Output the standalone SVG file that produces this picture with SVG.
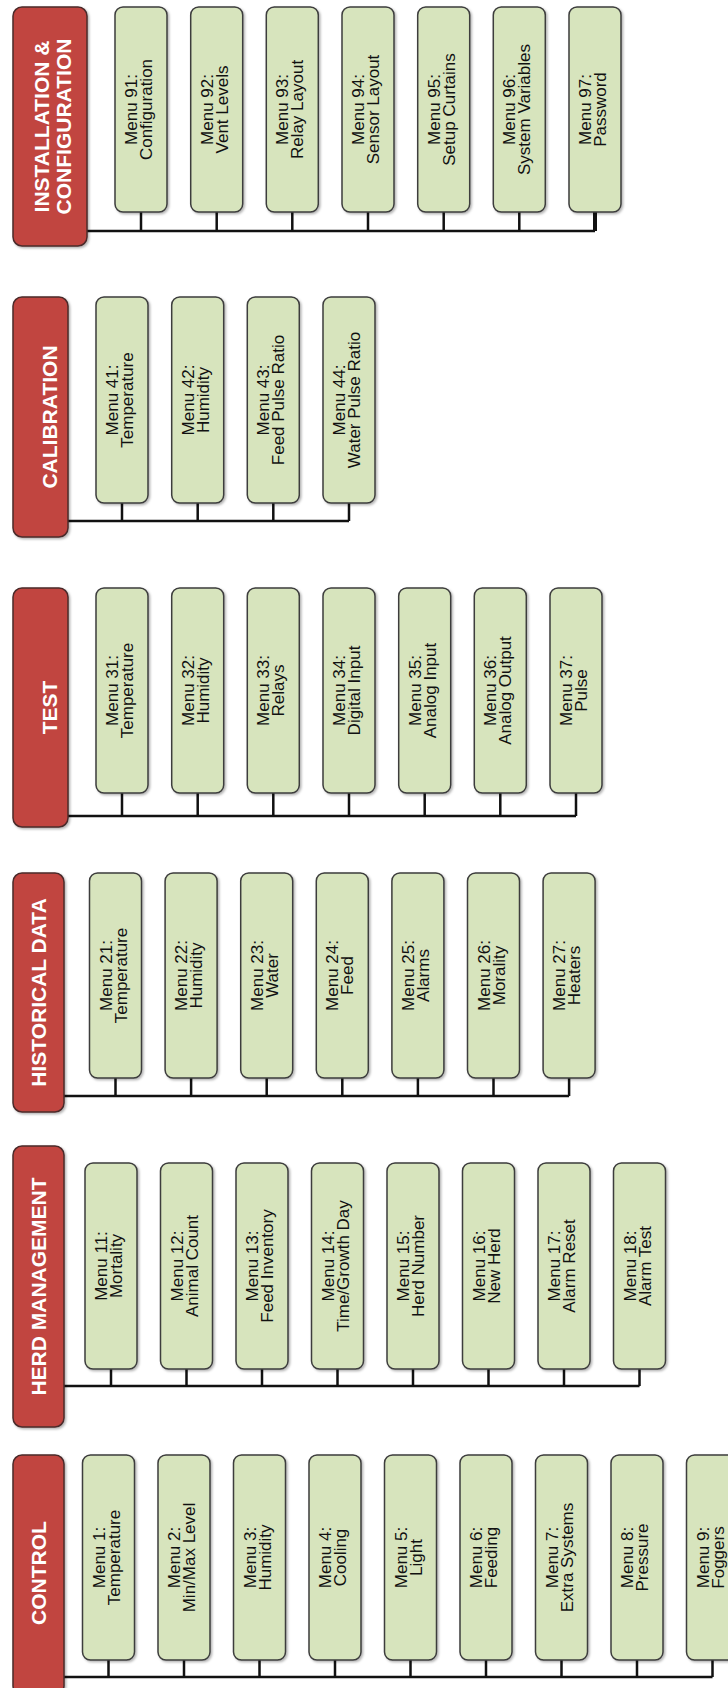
<svg xmlns="http://www.w3.org/2000/svg" width="728" height="1688" viewBox="0 0 728 1688">
<defs>
<filter id="sh" x="-10%" y="-10%" width="130%" height="130%">
<feDropShadow dx="1.5" dy="1.5" stdDeviation="1" flood-color="#000" flood-opacity="0.3"/>
</filter>
</defs>
<style>
.hd{fill:#c1443f;stroke:#4a2a2a;stroke-width:1.5;filter:url(#sh)}
.bx{fill:#d7e4bd;stroke:#3c3c3c;stroke-width:1.5;filter:url(#sh)}
.ht{font-family:"Liberation Sans",Arial,sans-serif;font-weight:bold;font-size:21px;fill:#fff;text-anchor:middle}
.mt{font-family:"Liberation Sans",Arial,sans-serif;font-size:17px;fill:#111;text-anchor:middle}
.cn{fill:none;stroke:#111;stroke-width:2.5}
</style>
<rect width="728" height="1688" fill="#fff"/>

<g id="connectors">
<path class="cn" d="M87,231H595M141,212V231M216.7,212V231M292.3,212V231M368,212V231M443.7,212V231M519.3,212V231"/>
<path class="cn" d="M595,212V231" style="stroke-width:4"/>
<path class="cn" d="M68,521H349M122,503V521M197.7,503V521M273.3,503V521M349,503V521"/>
<path class="cn" d="M68,816H576M122,793V816M197.7,793V816M273.3,793V816M349,793V816M424.7,793V816M500.3,793V816M576,793V816"/>
<path class="cn" d="M64,1096H569.1M115.5,1078V1096M191.1,1078V1096M266.7,1078V1096M342.3,1078V1096M417.9,1078V1096M493.5,1078V1096M569.1,1078V1096"/>
<path class="cn" d="M64,1386H639.5M111,1369V1386M186.5,1369V1386M262,1369V1386M337.5,1369V1386M413,1369V1386M488.5,1369V1386M564,1369V1386M639.5,1369V1386"/>
<path class="cn" d="M64,1677H712.5M108.5,1660V1677M184,1660V1677M259.5,1660V1677M335,1660V1677M410.5,1660V1677M486,1660V1677M561.5,1660V1677M637,1660V1677M712.5,1660V1677"/>
</g>

<!-- INSTALLATION & CONFIGURATION -->
<g id="installation">
<rect class="hd" x="13" y="7" width="74" height="239" rx="9"/>
<text class="ht" transform="translate(0,126.5) rotate(-90)"><tspan x="0" y="48.5">INSTALLATION &amp;</tspan><tspan x="0" y="70.5">CONFIGURATION</tspan></text>
</g>
<g id="menu91"><rect class="bx" x="115" y="7" width="52" height="205" rx="8"/><text class="mt" transform="translate(141,109.5) rotate(-90)"><tspan x="0" y="-4">Menu 91:</tspan><tspan x="0" y="11">Configuration</tspan></text></g>
<g id="menu92"><rect class="bx" x="190.7" y="7" width="52" height="205" rx="8"/><text class="mt" transform="translate(216.7,109.5) rotate(-90)"><tspan x="0" y="-4">Menu 92:</tspan><tspan x="0" y="11">Vent Levels</tspan></text></g>
<g id="menu93"><rect class="bx" x="266.3" y="7" width="52" height="205" rx="8"/><text class="mt" transform="translate(292.3,109.5) rotate(-90)"><tspan x="0" y="-4">Menu 93:</tspan><tspan x="0" y="11">Relay Layout</tspan></text></g>
<g id="menu94"><rect class="bx" x="342" y="7" width="52" height="205" rx="8"/><text class="mt" transform="translate(368,109.5) rotate(-90)"><tspan x="0" y="-4">Menu 94:</tspan><tspan x="0" y="11">Sensor Layout</tspan></text></g>
<g id="menu95"><rect class="bx" x="417.7" y="7" width="52" height="205" rx="8"/><text class="mt" transform="translate(443.7,109.5) rotate(-90)"><tspan x="0" y="-4">Menu 95:</tspan><tspan x="0" y="11">Setup Curtains</tspan></text></g>
<g id="menu96"><rect class="bx" x="493.3" y="7" width="52" height="205" rx="8"/><text class="mt" transform="translate(519.3,109.5) rotate(-90)"><tspan x="0" y="-4">Menu 96:</tspan><tspan x="0" y="11">System Variables</tspan></text></g>
<g id="menu97"><rect class="bx" x="569" y="7" width="52" height="205" rx="8"/><text class="mt" transform="translate(595,109.5) rotate(-90)"><tspan x="0" y="-4">Menu 97:</tspan><tspan x="0" y="11">Password</tspan></text></g>

<!-- CALIBRATION -->
<g id="calibration">
<rect class="hd" x="13" y="297" width="55" height="240" rx="9"/>
<text class="ht" transform="translate(57,417) rotate(-90)">CALIBRATION</text>
</g>
<g id="menu41"><rect class="bx" x="96" y="297" width="52" height="206" rx="8"/><text class="mt" transform="translate(122,400) rotate(-90)"><tspan x="0" y="-4">Menu 41:</tspan><tspan x="0" y="11">Temperature</tspan></text></g>
<g id="menu42"><rect class="bx" x="171.7" y="297" width="52" height="206" rx="8"/><text class="mt" transform="translate(197.7,400) rotate(-90)"><tspan x="0" y="-4">Menu 42:</tspan><tspan x="0" y="11">Humidity</tspan></text></g>
<g id="menu43"><rect class="bx" x="247.3" y="297" width="52" height="206" rx="8"/><text class="mt" transform="translate(273.3,400) rotate(-90)"><tspan x="0" y="-4">Menu 43:</tspan><tspan x="0" y="11">Feed Pulse Ratio</tspan></text></g>
<g id="menu44"><rect class="bx" x="323" y="297" width="52" height="206" rx="8"/><text class="mt" transform="translate(349,400) rotate(-90)"><tspan x="0" y="-4">Menu 44:</tspan><tspan x="0" y="11">Water Pulse Ratio</tspan></text></g>

<!-- TEST -->
<g id="test">
<rect class="hd" x="13" y="588" width="55" height="239" rx="9"/>
<text class="ht" transform="translate(57,707.5) rotate(-90)">TEST</text>
</g>
<g id="menu31"><rect class="bx" x="96" y="588" width="52" height="205" rx="8"/><text class="mt" transform="translate(122,690.5) rotate(-90)"><tspan x="0" y="-4">Menu 31:</tspan><tspan x="0" y="11">Temperature</tspan></text></g>
<g id="menu32"><rect class="bx" x="171.7" y="588" width="52" height="205" rx="8"/><text class="mt" transform="translate(197.7,690.5) rotate(-90)"><tspan x="0" y="-4">Menu 32:</tspan><tspan x="0" y="11">Humidity</tspan></text></g>
<g id="menu33"><rect class="bx" x="247.3" y="588" width="52" height="205" rx="8"/><text class="mt" transform="translate(273.3,690.5) rotate(-90)"><tspan x="0" y="-4">Menu 33:</tspan><tspan x="0" y="11">Relays</tspan></text></g>
<g id="menu34"><rect class="bx" x="323" y="588" width="52" height="205" rx="8"/><text class="mt" transform="translate(349,690.5) rotate(-90)"><tspan x="0" y="-4">Menu 34:</tspan><tspan x="0" y="11">Digital Input</tspan></text></g>
<g id="menu35"><rect class="bx" x="398.7" y="588" width="52" height="205" rx="8"/><text class="mt" transform="translate(424.7,690.5) rotate(-90)"><tspan x="0" y="-4">Menu 35:</tspan><tspan x="0" y="11">Analog Input</tspan></text></g>
<g id="menu36"><rect class="bx" x="474.3" y="588" width="52" height="205" rx="8"/><text class="mt" transform="translate(500.3,690.5) rotate(-90)"><tspan x="0" y="-4">Menu 36:</tspan><tspan x="0" y="11">Analog Output</tspan></text></g>
<g id="menu37"><rect class="bx" x="550" y="588" width="52" height="205" rx="8"/><text class="mt" transform="translate(576,690.5) rotate(-90)"><tspan x="0" y="-4">Menu 37:</tspan><tspan x="0" y="11">Pulse</tspan></text></g>

<!-- HISTORICAL DATA -->
<g id="historical">
<rect class="hd" x="13" y="873" width="51" height="239" rx="9"/>
<text class="ht" transform="translate(46,992.5) rotate(-90)">HISTORICAL DATA</text>
</g>
<g id="menu21"><rect class="bx" x="89.5" y="873" width="52" height="205" rx="8"/><text class="mt" transform="translate(115.5,975.5) rotate(-90)"><tspan x="0" y="-4">Menu 21:</tspan><tspan x="0" y="11">Temperature</tspan></text></g>
<g id="menu22"><rect class="bx" x="165.1" y="873" width="52" height="205" rx="8"/><text class="mt" transform="translate(191.1,975.5) rotate(-90)"><tspan x="0" y="-4">Menu 22:</tspan><tspan x="0" y="11">Humidity</tspan></text></g>
<g id="menu23"><rect class="bx" x="240.7" y="873" width="52" height="205" rx="8"/><text class="mt" transform="translate(266.7,975.5) rotate(-90)"><tspan x="0" y="-4">Menu 23:</tspan><tspan x="0" y="11">Water</tspan></text></g>
<g id="menu24"><rect class="bx" x="316.3" y="873" width="52" height="205" rx="8"/><text class="mt" transform="translate(342.3,975.5) rotate(-90)"><tspan x="0" y="-4">Menu 24:</tspan><tspan x="0" y="11">Feed</tspan></text></g>
<g id="menu25"><rect class="bx" x="391.9" y="873" width="52" height="205" rx="8"/><text class="mt" transform="translate(417.9,975.5) rotate(-90)"><tspan x="0" y="-4">Menu 25:</tspan><tspan x="0" y="11">Alarms</tspan></text></g>
<g id="menu26"><rect class="bx" x="467.5" y="873" width="52" height="205" rx="8"/><text class="mt" transform="translate(493.5,975.5) rotate(-90)"><tspan x="0" y="-4">Menu 26:</tspan><tspan x="0" y="11">Morality</tspan></text></g>
<g id="menu27"><rect class="bx" x="543.1" y="873" width="52" height="205" rx="8"/><text class="mt" transform="translate(569.1,975.5) rotate(-90)"><tspan x="0" y="-4">Menu 27:</tspan><tspan x="0" y="11">Heaters</tspan></text></g>

<!-- HERD MANAGEMENT -->
<g id="herd">
<rect class="hd" x="13" y="1146" width="51" height="281" rx="9"/>
<text class="ht" transform="translate(46,1286.5) rotate(-90)">HERD MANAGEMENT</text>
</g>
<g id="menu11"><rect class="bx" x="85" y="1163" width="52" height="206" rx="8"/><text class="mt" transform="translate(111,1266) rotate(-90)"><tspan x="0" y="-4">Menu 11:</tspan><tspan x="0" y="11">Mortality</tspan></text></g>
<g id="menu12"><rect class="bx" x="160.5" y="1163" width="52" height="206" rx="8"/><text class="mt" transform="translate(186.5,1266) rotate(-90)"><tspan x="0" y="-4">Menu 12:</tspan><tspan x="0" y="11">Animal Count</tspan></text></g>
<g id="menu13"><rect class="bx" x="236" y="1163" width="52" height="206" rx="8"/><text class="mt" transform="translate(262,1266) rotate(-90)"><tspan x="0" y="-4">Menu 13:</tspan><tspan x="0" y="11">Feed Inventory</tspan></text></g>
<g id="menu14"><rect class="bx" x="311.5" y="1163" width="52" height="206" rx="8"/><text class="mt" transform="translate(337.5,1266) rotate(-90)"><tspan x="0" y="-4">Menu 14:</tspan><tspan x="0" y="11">Time/Growth Day</tspan></text></g>
<g id="menu15"><rect class="bx" x="387" y="1163" width="52" height="206" rx="8"/><text class="mt" transform="translate(413,1266) rotate(-90)"><tspan x="0" y="-4">Menu 15:</tspan><tspan x="0" y="11">Herd Number</tspan></text></g>
<g id="menu16"><rect class="bx" x="462.5" y="1163" width="52" height="206" rx="8"/><text class="mt" transform="translate(488.5,1266) rotate(-90)"><tspan x="0" y="-4">Menu 16:</tspan><tspan x="0" y="11">New Herd</tspan></text></g>
<g id="menu17"><rect class="bx" x="538" y="1163" width="52" height="206" rx="8"/><text class="mt" transform="translate(564,1266) rotate(-90)"><tspan x="0" y="-4">Menu 17:</tspan><tspan x="0" y="11">Alarm Reset</tspan></text></g>
<g id="menu18"><rect class="bx" x="613.5" y="1163" width="52" height="206" rx="8"/><text class="mt" transform="translate(639.5,1266) rotate(-90)"><tspan x="0" y="-4">Menu 18:</tspan><tspan x="0" y="11">Alarm Test</tspan></text></g>

<!-- CONTROL -->
<g id="control">
<rect class="hd" x="13" y="1455" width="51" height="240" rx="9"/>
<text class="ht" transform="translate(46,1573) rotate(-90)">CONTROL</text>
</g>
<g id="menu1"><rect class="bx" x="82.5" y="1455" width="52" height="205" rx="8"/><text class="mt" transform="translate(108.5,1557.5) rotate(-90)"><tspan x="0" y="-4">Menu 1:</tspan><tspan x="0" y="11">Temperature</tspan></text></g>
<g id="menu2"><rect class="bx" x="158" y="1455" width="52" height="205" rx="8"/><text class="mt" transform="translate(184,1557.5) rotate(-90)"><tspan x="0" y="-4">Menu 2:</tspan><tspan x="0" y="11">Min/Max Level</tspan></text></g>
<g id="menu3"><rect class="bx" x="233.5" y="1455" width="52" height="205" rx="8"/><text class="mt" transform="translate(259.5,1557.5) rotate(-90)"><tspan x="0" y="-4">Menu 3:</tspan><tspan x="0" y="11">Humidity</tspan></text></g>
<g id="menu4"><rect class="bx" x="309" y="1455" width="52" height="205" rx="8"/><text class="mt" transform="translate(335,1557.5) rotate(-90)"><tspan x="0" y="-4">Menu 4:</tspan><tspan x="0" y="11">Cooling</tspan></text></g>
<g id="menu5"><rect class="bx" x="384.5" y="1455" width="52" height="205" rx="8"/><text class="mt" transform="translate(410.5,1557.5) rotate(-90)"><tspan x="0" y="-4">Menu 5:</tspan><tspan x="0" y="11">Light</tspan></text></g>
<g id="menu6"><rect class="bx" x="460" y="1455" width="52" height="205" rx="8"/><text class="mt" transform="translate(486,1557.5) rotate(-90)"><tspan x="0" y="-4">Menu 6:</tspan><tspan x="0" y="11">Feeding</tspan></text></g>
<g id="menu7"><rect class="bx" x="535.5" y="1455" width="52" height="205" rx="8"/><text class="mt" transform="translate(561.5,1557.5) rotate(-90)"><tspan x="0" y="-4">Menu 7:</tspan><tspan x="0" y="11">Extra Systems</tspan></text></g>
<g id="menu8"><rect class="bx" x="611" y="1455" width="52" height="205" rx="8"/><text class="mt" transform="translate(637,1557.5) rotate(-90)"><tspan x="0" y="-4">Menu 8:</tspan><tspan x="0" y="11">Pressure</tspan></text></g>
<g id="menu9"><rect class="bx" x="686.5" y="1455" width="52" height="205" rx="8"/><text class="mt" transform="translate(712.5,1557.5) rotate(-90)"><tspan x="0" y="-4">Menu 9:</tspan><tspan x="0" y="11">Foggers</tspan></text></g>
</svg>
